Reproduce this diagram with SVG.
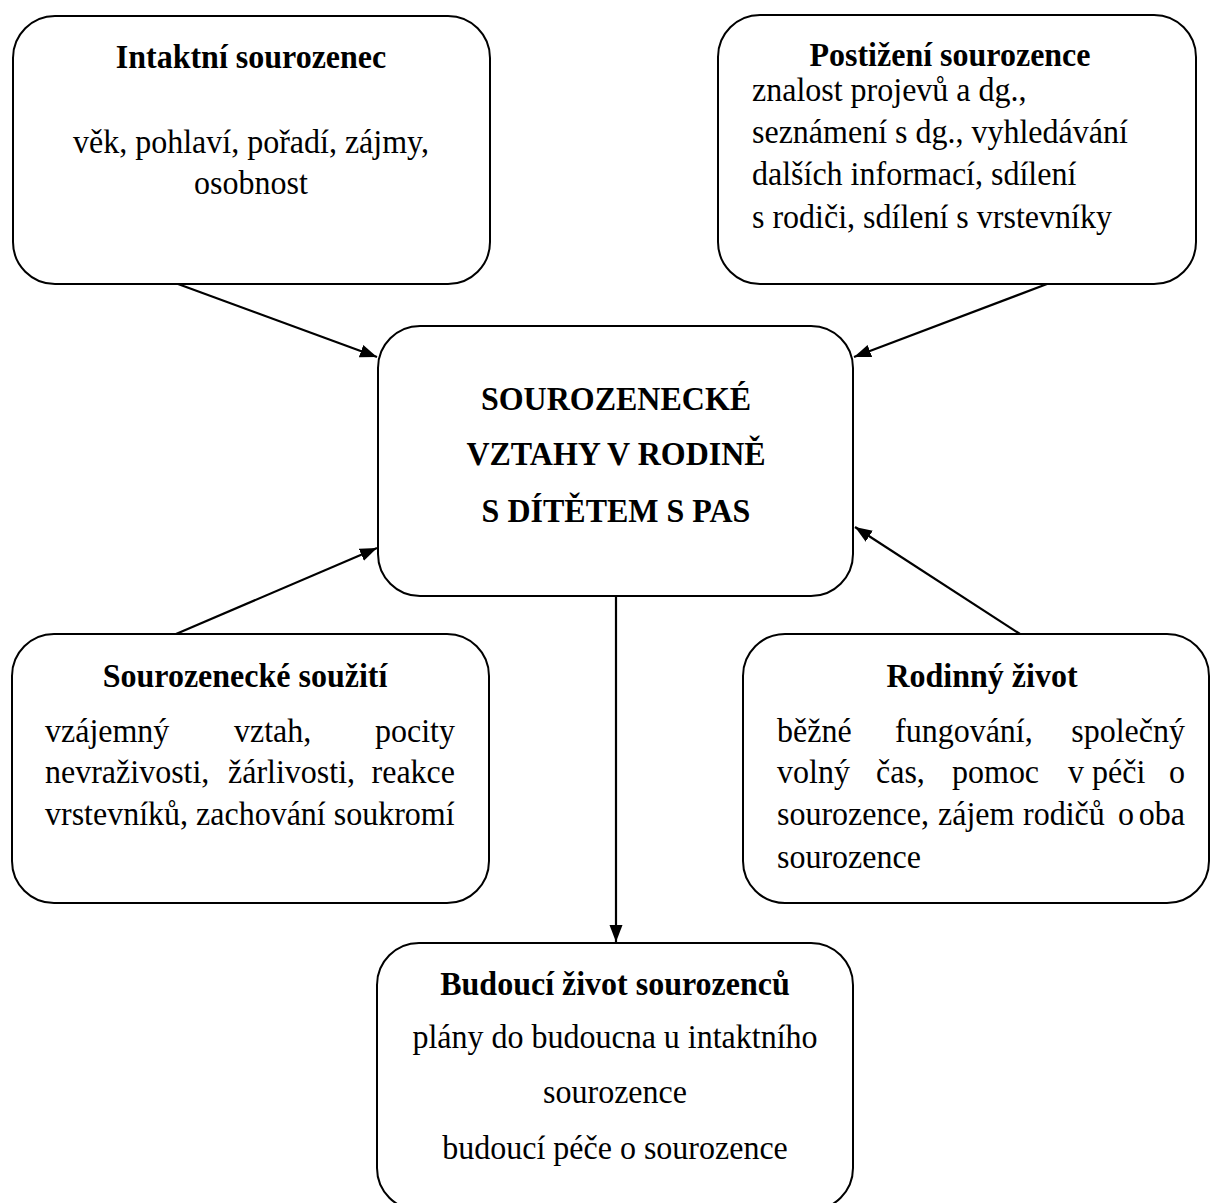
<svg xmlns="http://www.w3.org/2000/svg" width="1210" height="1203" viewBox="0 0 1210 1203">
<style>
.box{fill:#fff;stroke:#000;stroke-width:2}
.t{font-family:"Liberation Serif","Times New Roman",serif;font-size:32px;fill:#000}
.b{font-weight:bold}
.m{text-anchor:middle}
.e{text-anchor:end}
.c{fill:none;stroke:#000;stroke-width:2.2}
</style>
<defs>
<marker id="ah" markerUnits="userSpaceOnUse" markerWidth="18" markerHeight="14" refX="17" refY="6.5" orient="auto">
<path d="M0,0 L17,6.5 L0,13 z" fill="#000"/>
</marker>
</defs>
<rect width="1210" height="1203" fill="#fff"/>
<g id="connectors">
<line class="c" x1="178" y1="284" x2="377" y2="357" marker-end="url(#ah)"/>
<line class="c" x1="1047" y1="284" x2="854" y2="357" marker-end="url(#ah)"/>
<line class="c" x1="176" y1="634" x2="377" y2="548" marker-end="url(#ah)"/>
<line class="c" x1="1020" y1="634" x2="855" y2="527" marker-end="url(#ah)"/>
<line class="c" x1="616" y1="596" x2="616" y2="942" marker-end="url(#ah)"/>
</g>
<g id="intaktni">
<rect class="box" x="13" y="16" width="477" height="268" rx="42"/>
<text class="t b m" transform="translate(251,68) scale(1,1.08)">Intaktní sourozenec</text>
<text class="t m" transform="translate(251,153) scale(1,1.08)">věk, pohlaví, pořadí, zájmy,</text>
<text class="t m" transform="translate(251,194) scale(1,1.08)">osobnost</text>
</g>
<g id="postizeni">
<rect class="box" x="718" y="15" width="478" height="269" rx="42"/>
<text class="t b m" transform="translate(950,66) scale(1,1.08)">Postižení sourozence</text>
<text class="t" transform="translate(752,101) scale(1,1.08)">znalost projevů a dg.,</text>
<text class="t" transform="translate(752,143) scale(1,1.08)">seznámení s dg., vyhledávání</text>
<text class="t" transform="translate(752,185) scale(1,1.08)">dalších informací, sdílení</text>
<text class="t" transform="translate(752,228) scale(1,1.08)">s rodiči, sdílení s vrstevníky</text>
</g>
<g id="center">
<rect class="box" x="378" y="326" width="475" height="270" rx="42"/>
<text class="t b m" transform="translate(616,410) scale(1,1.08)">SOUROZENECKÉ</text>
<text class="t b m" transform="translate(616,465) scale(1,1.08)">VZTAHY V RODINĚ</text>
<text class="t b m" transform="translate(616,522) scale(1,1.08)">S DÍTĚTEM S PAS</text>
</g>
<g id="souziti">
<rect class="box" x="12" y="634" width="477" height="269" rx="42"/>
<text class="t b m" transform="translate(245,687) scale(1,1.08)">Sourozenecké soužití</text>
<text class="t" transform="translate(45,742) scale(1,1.08)">vzájemný</text>
<text class="t" transform="translate(234,742) scale(1,1.08)">vztah,</text>
<text class="t e" transform="translate(455,742) scale(1,1.08)">pocity</text>
<text class="t" transform="translate(45,783) scale(1,1.08)">nevraživosti,</text>
<text class="t" transform="translate(228,783) scale(1,1.08)">žárlivosti,</text>
<text class="t e" transform="translate(455,783) scale(1,1.08)">reakce</text>
<text class="t" transform="translate(45,825) scale(1,1.08)">vrstevníků, zachování soukromí</text>
</g>
<g id="rodinny">
<rect class="box" x="743" y="634" width="466" height="269" rx="42"/>
<text class="t b m" transform="translate(982,687) scale(1,1.08)">Rodinný život</text>
<text class="t" transform="translate(777,742) scale(1,1.08)">běžné</text>
<text class="t" transform="translate(895,742) scale(1,1.08)">fungování,</text>
<text class="t e" transform="translate(1185,742) scale(1,1.08)">společný</text>
<text class="t" transform="translate(777,783) scale(1,1.08)">volný</text>
<text class="t" transform="translate(876,783) scale(1,1.08)">čas,</text>
<text class="t" transform="translate(952,783) scale(1,1.08)">pomoc</text>
<text class="t" transform="translate(1068,783) scale(1,1.08)">v péči</text>
<text class="t e" transform="translate(1185,783) scale(1,1.08)">o</text>
<text class="t" transform="translate(777,825) scale(1,1.08)">sourozence,</text>
<text class="t" transform="translate(938,825) scale(1,1.08)">zájem</text>
<text class="t" transform="translate(1023,825) scale(1,1.08)">rodičů</text>
<text class="t" transform="translate(1118,825) scale(1,1.08)">o</text>
<text class="t e" transform="translate(1185,825) scale(1,1.08)">oba</text>
<text class="t" transform="translate(777,868) scale(1,1.08)">sourozence</text>
</g>
<g id="budouci">
<rect class="box" x="377" y="943" width="476" height="267" rx="42"/>
<text class="t b m" transform="translate(615,995) scale(1,1.08)">Budoucí život sourozenců</text>
<text class="t m" transform="translate(615,1048) scale(1,1.08)">plány do budoucna u intaktního</text>
<text class="t m" transform="translate(615,1103) scale(1,1.08)">sourozence</text>
<text class="t m" transform="translate(615,1159) scale(1,1.08)">budoucí péče o sourozence</text>
</g>
</svg>
